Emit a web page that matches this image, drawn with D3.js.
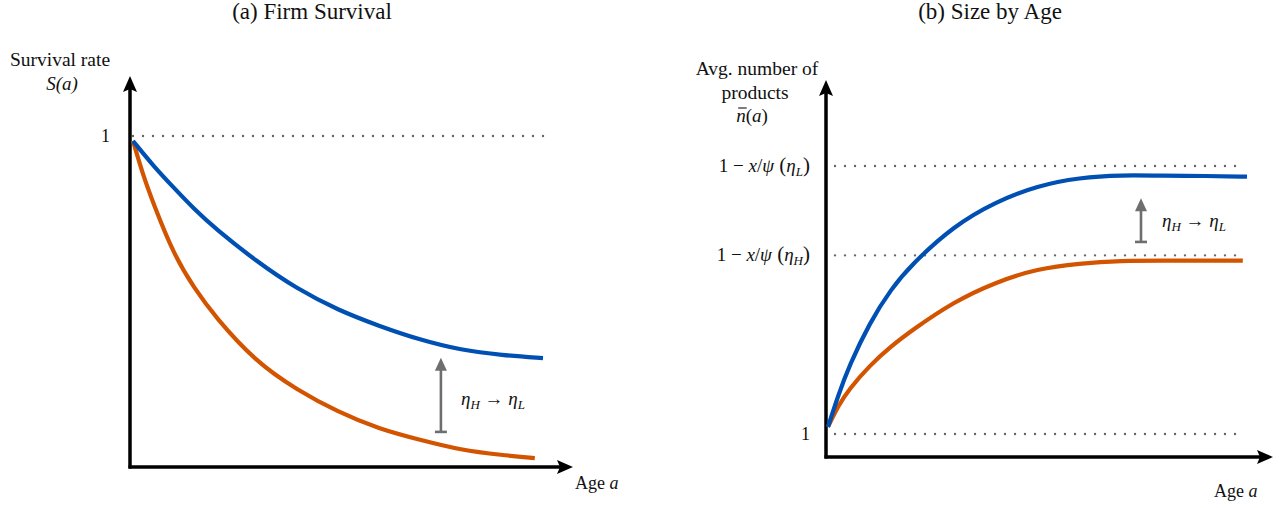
<!DOCTYPE html>
<html>
<head>
<meta charset="utf-8">
<script src="https://cdn.jsdelivr.net/npm/d3@7"></script>
<style>
  body { margin: 0; background: #fff; }
  text { font-family: "Liberation Serif", "Times New Roman", serif; fill: #111; }
</style>
</head>
<body>
<script>
// ---- data ----
// (a) firm survival S(a)
const survAgesL = [0, 0.5, 1, 1.5, 2, 3, 4, 5, 6, 7, 8, 9, 10];
const survL     = [0.985, 0.909, 0.843, 0.778, 0.721, 0.622, 0.538, 0.474, 0.426, 0.384, 0.353, 0.338, 0.329];
const survAgesH = [0, 0.25, 0.5, 1, 1.5, 2, 3, 4, 5, 6, 7, 8, 9, 9.8];
const survH     = [0.985, 0.88, 0.795, 0.64, 0.539, 0.454, 0.317, 0.233, 0.166, 0.115, 0.082, 0.051, 0.036, 0.027];

// (b) avg number of products n(a)
const sizeAgesL = [0, 0.25, 0.5, 1, 1.5, 2, 3, 4, 5, 6, 7, 8, 9, 10];
const sizeL     = [1.08, 1.44, 1.76, 2.25, 2.62, 2.90, 3.33, 3.60, 3.78, 3.87, 3.90, 3.89, 3.89, 3.88];
const sizeAgesH = [0, 0.25, 0.5, 1, 1.5, 2, 3, 4, 5, 6, 7, 8, 9, 9.9];
const sizeH     = [1.08, 1.32, 1.50, 1.77, 1.98, 2.16, 2.48, 2.70, 2.85, 2.91, 2.94, 2.94, 2.94, 2.94];

const survTicks = [1];
const sizeTicks = [1, 3, 4];   // 1, 1 - x/psi(eta_H), 1 - x/psi(eta_L)

const blue = '#0050b4';
const orange = '#d25400';
const grey = '#6e6e6e';

let width = 1283, height = 508;
let svg = d3.select('body').append('svg')
    .attr('width', width)
    .attr('height', height);

let line = d3.line()
    .x(d => d.x)
    .y(d => d.y)
    .curve(d3.curveBasis);

function toPts(ages, vals, x, y) {
    return ages.map((a, i) => ({x: x(a), y: y(vals[i])}));
}

// black axes with filled triangle heads
function drawAxes(ox, oy, xTip, yTip) {
    svg.append('line').attr('x1', ox).attr('y1', oy + 1.5).attr('x2', ox).attr('y2', yTip + 12)
        .attr('stroke', '#000').attr('stroke-width', 3.5);
    svg.append('line').attr('x1', ox - 1.5).attr('y1', oy).attr('x2', xTip - 12).attr('y2', oy)
        .attr('stroke', '#000').attr('stroke-width', 3.5);
    svg.append('path')
        .attr('d', `M${ox},${yTip} L${ox - 7},${yTip + 16} L${ox},${yTip + 13} L${ox + 7},${yTip + 16} Z`)
        .attr('fill', '#000');
    svg.append('path')
        .attr('d', `M${xTip},${oy} L${xTip - 16},${oy - 7} L${xTip - 13},${oy} L${xTip - 16},${oy + 7} Z`)
        .attr('fill', '#000');
}

function dotted(x1, x2, y) {
    svg.append('line').attr('x1', x1).attr('x2', x2).attr('y1', y).attr('y2', y)
        .attr('stroke', '#666').attr('stroke-width', 2.4)
        .attr('stroke-linecap', 'round').attr('stroke-dasharray', '0 10');
}

function shiftArrow(x, y0, y1) {
    svg.append('line').attr('x1', x).attr('x2', x).attr('y1', y0).attr('y2', y1 + 10)
        .attr('stroke', grey).attr('stroke-width', 2.6);
    svg.append('line').attr('x1', x - 6).attr('x2', x + 6).attr('y1', y0).attr('y2', y0)
        .attr('stroke', grey).attr('stroke-width', 2.6);
    svg.append('path').attr('d', `M${x},${y1} L${x - 6},${y1 + 13} L${x + 6},${y1 + 13} Z`)
        .attr('fill', grey);
}

function etaLabel(x, y) {
    let t = svg.append('text').attr('x', x).attr('y', y).attr('font-size', 19);
    t.append('tspan').attr('font-style', 'italic').text('η');
    t.append('tspan').attr('font-style', 'italic').attr('font-size', 13).attr('dy', 4).text('H');
    t.append('tspan').attr('dy', -4).text(' → ');
    t.append('tspan').attr('font-style', 'italic').text('η');
    t.append('tspan').attr('font-style', 'italic').attr('font-size', 13).attr('dy', 4).text('L');
}

function ageLabel(x, y) {
    let t = svg.append('text').attr('x', x).attr('y', y).attr('font-size', 18);
    t.append('tspan').text('Age ');
    t.append('tspan').attr('font-style', 'italic').text('a');
}

// ================= (a) Firm Survival =================
let xA = d3.scaleLinear().domain([0, 10]).range([133, 543]);
let yA = d3.scaleLinear().domain([0, 1]).range([467, 136]);

svg.append('text').attr('x', 312).attr('y', 19).attr('text-anchor', 'middle')
    .attr('font-size', 23).text('(a) Firm Survival');

drawAxes(130, yA(0), 573, 76);

svg.selectAll('.tickA').data(survTicks).join('text')
    .attr('class', 'tickA')
    .attr('x', 110).attr('y', d => yA(d) + 6)
    .attr('text-anchor', 'end').attr('font-size', 18)
    .text(d => d);
survTicks.forEach(d => dotted(xA(0), 553, yA(d)));

svg.append('text').attr('x', 60).attr('y', 66).attr('text-anchor', 'middle')
    .attr('font-size', 19.5).text('Survival rate');
svg.append('text').attr('x', 62).attr('y', 90).attr('text-anchor', 'middle')
    .attr('font-size', 19).attr('font-style', 'italic').text('S(a)');

svg.append('path').datum(toPts(survAgesH, survH, xA, yA))
    .attr('d', line).attr('fill', 'none').attr('stroke', orange).attr('stroke-width', 4.2);
svg.append('path').datum(toPts(survAgesL, survL, xA, yA))
    .attr('d', line).attr('fill', 'none').attr('stroke', blue).attr('stroke-width', 4.2);

shiftArrow(xA(7.51), yA(0.106), yA(0.33));
etaLabel(461, 405);
ageLabel(575, 489);

// ================= (b) Size by Age =================
let xB = d3.scaleLinear().domain([0, 10]).range([828, 1247]);
let yB = d3.scaleLinear().domain([1, 4]).range([434, 166]);

svg.append('text').attr('x', 990).attr('y', 19).attr('text-anchor', 'middle')
    .attr('font-size', 23).text('(b) Size by Age');

drawAxes(826, 457, 1273, 80);

sizeTicks.forEach(d => dotted(835, 1243, yB(d)));

svg.append('text').attr('x', 810).attr('y', yB(1) + 6)
    .attr('text-anchor', 'end').attr('font-size', 18).text('1');

function psiLabel(y, sub) {
    let t = svg.append('text').attr('x', 810).attr('y', y).attr('text-anchor', 'end').attr('font-size', 19);
    t.append('tspan').text('1 − ');
    t.append('tspan').attr('font-style', 'italic').text('x');
    t.append('tspan').text('/');
    t.append('tspan').attr('font-style', 'italic').text('ψ');
    t.append('tspan').attr('font-size', 21).text(' (');
    t.append('tspan').attr('font-style', 'italic').text('η');
    t.append('tspan').attr('font-style', 'italic').attr('font-size', 13).attr('dy', 4).text(sub);
    t.append('tspan').attr('dy', -4).attr('font-size', 21).text(')');
}
psiLabel(yB(4) + 6, 'L');
psiLabel(yB(3) + 6, 'H');

svg.append('text').attr('x', 757).attr('y', 75).attr('text-anchor', 'middle')
    .attr('font-size', 19.5).text('Avg. number of');
svg.append('text').attr('x', 755).attr('y', 99).attr('text-anchor', 'middle')
    .attr('font-size', 19.5).text('products');
let nl = svg.append('text').attr('x', 752).attr('y', 122).attr('text-anchor', 'middle').attr('font-size', 19);
let nChar = nl.append('tspan').attr('font-style', 'italic').text('n');
nl.append('tspan').text('(');
nl.append('tspan').attr('font-style', 'italic').text('a');
nl.append('tspan').text(')');
// macron over the n
let nb = nChar.node().getExtentOfChar(0);
svg.append('line')
    .attr('x1', nb.x + 2).attr('x2', nb.x + nb.width + 1)
    .attr('y1', 108).attr('y2', 108)
    .attr('stroke', '#111').attr('stroke-width', 1.1);

svg.append('path').datum(toPts(sizeAgesH, sizeH, xB, yB))
    .attr('d', line).attr('fill', 'none').attr('stroke', orange).attr('stroke-width', 4.2);
svg.append('path').datum(toPts(sizeAgesL, sizeL, xB, yB))
    .attr('d', line).attr('fill', 'none').attr('stroke', blue).attr('stroke-width', 4.2);

shiftArrow(xB(7.47), yB(3.15), yB(3.64));
etaLabel(1162, 227);
ageLabel(1214, 497);
</script>
</body>
</html>
